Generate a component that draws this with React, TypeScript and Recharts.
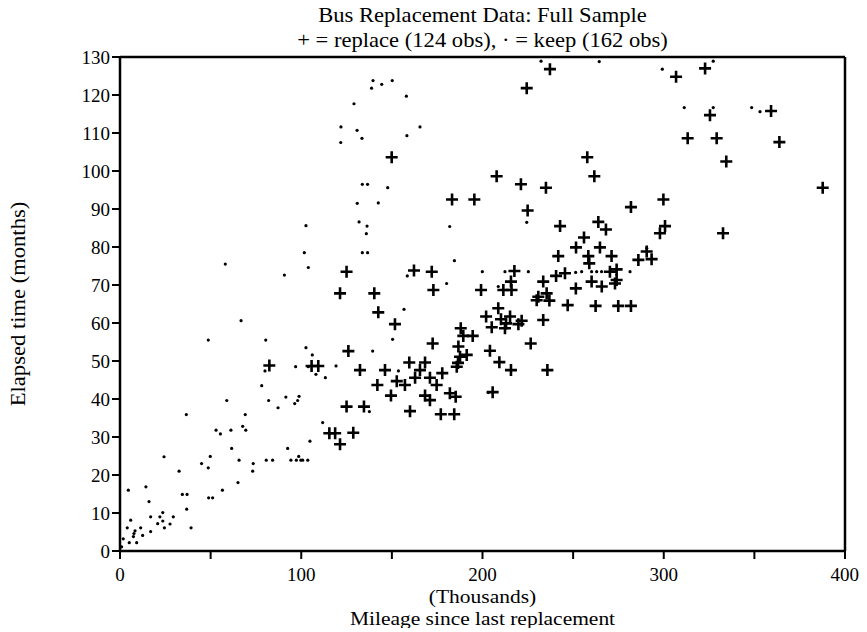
import React from 'react';
import { ScatterChart, Scatter, XAxis, YAxis, ReferenceLine } from 'recharts';

// [mileage (thousands), elapsed months]
const replacePoints: [number, number][] = [
  [237.2, 126.8], [224.4, 121.8], [149.9, 103.6], [183.2, 92.5], [195.5, 92.5],
  [207.8, 98.6], [221.2, 96.5], [235, 95.6], [224.9, 89.6], [257.8, 103.6],
  [261.7, 98.6], [281.9, 90.5], [299.8, 92.5], [242.8, 85.5], [263.9, 86.6],
  [268.1, 84.6], [256, 82.5], [300.7, 85.5], [297.9, 83.6], [251.6, 79.9],
  [264.8, 79.9], [306.8, 124.8], [322.8, 127], [325.5, 114.7], [359.2, 115.8],
  [313.2, 108.6], [329.2, 108.6], [363.8, 107.6], [334.5, 102.5], [387.7, 95.6],
  [332.7, 83.6], [293.3, 76.8], [125, 73.5], [121.4, 67.8], [140.3, 67.8],
  [142.5, 62.8], [151.7, 59.7], [162.2, 73.8], [172, 73.5], [172.9, 68.7],
  [172.5, 54.6], [188, 58.6], [189.4, 56.6], [194.6, 56.6], [199.2, 68.7],
  [202, 61.7], [186.7, 53.8], [187.6, 51.1], [191.3, 51.6], [185.8, 48.5],
  [126, 52.6], [105.7, 48.7], [109.4, 48.7], [132.4, 47.6], [146.2, 47.6],
  [159.6, 49.6], [168.3, 49.6], [165.5, 47.6], [162.8, 45.6], [171, 45.6],
  [177.8, 46.8], [142, 43.7], [152.7, 44.7], [157.2, 43.7], [174.7, 43.7],
  [149.5, 40.9], [168.3, 40.9], [171, 39.7], [182, 41.5], [185.2, 40.6],
  [160, 36.8], [177, 36], [184.4, 36], [125, 38], [134.6, 38],
  [115.5, 31], [118.7, 31], [128.7, 31.1], [121.4, 28.1], [82.4, 48.8],
  [241.8, 77.6], [217.6, 73.7], [240.6, 72.4], [245.5, 73.1], [215.7, 70.9],
  [233.5, 70.9], [211.5, 68.7], [216, 68.7], [251.5, 69.1], [230.8, 66.9],
  [235.4, 67.8], [229.9, 66], [236.9, 65.9], [247, 64.7], [208.7, 63.9],
  [210.2, 61], [215.2, 61.7], [213, 59.9], [205.1, 58.9], [212.4, 58.6],
  [219.8, 59.7], [221.6, 60.6], [233.5, 60.8], [204.1, 52.7], [226.6, 54.6],
  [209.3, 49.7], [215.7, 47.6], [235.8, 47.6], [205.6, 41.8], [258.4, 77.6],
  [271.2, 77.6], [258.9, 75.7], [290.6, 78.8], [286, 76.6], [274, 74.1],
  [270.3, 73.5], [274, 71.3], [273.1, 70.4], [260.2, 70.9], [265.8, 69.6],
  [262.4, 64.5], [274.9, 64.5], [281.9, 64.5], [186.5, 49.5],
];

const keepPoints: [number, number][] = [
  [0.9, 1.1], [1.8, 3.2], [4.6, 16], [4, 6.1], [5.9, 8.1], [5.1, 2.2], [7.4, 3.8],
  [7.7, 4.6], [8.3, 5.3], [9.2, 2.2], [11.4, 6.1], [12.5, 4.1], [14.3, 16.9], [16, 13],
  [16.9, 9], [16.9, 5.1], [20.8, 7.2], [22, 9], [23.6, 10.1], [23.6, 7.9], [24.5, 6.1],
  [24.3, 24.8], [27.6, 7.1], [29.4, 9], [32.6, 21], [34.4, 14.9], [37, 14.9], [36.6, 35.9],
  [36.8, 11], [39.2, 6.1], [45, 23], [48.7, 21.9], [49.8, 24.9], [48.9, 14], [51.1, 14],
  [58.9, 39.6], [53, 31.8], [55.4, 30.8], [56.5, 16], [61.2, 31.8], [61.6, 27], [65.1, 18],
  [65.7, 23.9], [67.7, 32.8], [69.1, 35.9], [69.4, 31.8], [73.5, 23], [73.2, 21], [78.2, 43.5],
  [82, 39.6], [80.7, 23.9], [84.2, 23.9], [87.2, 37.7], [91.5, 40.5], [92.5, 27], [94.3, 23.9],
  [96.4, 38.8], [97.3, 23.9], [98, 39.6], [98.8, 40.7], [98.6, 24.9], [99.8, 23.9], [100.8, 23.9],
  [103.6, 23.9], [104.8, 28.9], [58.1, 75.5], [66.8, 60.6], [48.7, 55.5], [80.4, 55.5],
  [102.6, 85.6], [101.7, 78.5], [103.9, 74.6], [90.7, 72.6], [102.6, 53.5], [96.9, 48.5],
  [103.9, 48.5], [80, 47.4], [133.7, 78.5], [136.6, 78.5], [158.5, 72.4], [180.2, 70.4],
  [184.5, 76.4], [199.9, 73.5], [156.7, 63.6], [150.4, 55.7], [139.4, 52.6], [106.1, 51.6],
  [119.2, 48.7], [108.1, 46.5], [113.3, 45.6], [153.6, 47.4], [137.6, 36.7], [111.8, 33.8],
  [203.2, 41.7], [139.6, 123.8], [144.4, 122.8], [150.2, 123.8], [138.8, 121.8], [158, 119.7],
  [129.1, 117.7], [121.9, 111.6], [130.8, 110.7], [165.5, 111.6], [121.8, 107.5], [133.5, 108.6],
  [158.3, 109.3], [133.7, 96.5], [136.6, 96.5], [147.7, 95.6], [130.9, 91.5], [142.5, 91.6],
  [131.9, 86.6], [136.3, 85.5], [135.9, 83.5], [181.9, 85.4], [232.3, 128.9], [264.4, 128.8],
  [299.2, 126.8], [224.4, 86.5], [290.6, 79.7], [327.3, 128.9], [311.3, 116.7], [327.3, 116.7],
  [348.5, 116.7], [353.1, 115.6], [212.4, 73.5], [225.3, 73.5], [208.7, 69.6], [251.4, 73.3],
  [254.7, 73.5], [260.2, 73.5], [263, 73.5], [265.7, 73.5], [281.4, 73.5],
];

const xTicks = [0, 50, 100, 150, 200, 250, 300, 350, 400];
const yTicks = [0, 10, 20, 30, 40, 50, 60, 70, 80, 90, 100, 110, 120, 130];

const replaceData = replacePoints.map(([x, y]) => ({ x, y }));
const keepData = keepPoints.map(([x, y]) => ({ x, y }));

const FONT = '"Liberation Serif", "DejaVu Serif", serif';

const Cross = (props: any) => {
  const { cx, cy } = props;
  if (cx == null || cy == null) return null;
  return (
    <path
      d={`M${cx - 6},${cy} H${cx + 6} M${cx},${cy - 6} V${cy + 6}`}
      stroke="#000"
      strokeWidth={2.6}
      fill="none"
    />
  );
};

const Dot = (props: any) => {
  const { cx, cy } = props;
  if (cx == null || cy == null) return null;
  return <circle cx={cx} cy={cy} r={1.6} fill="#000" />;
};

const tickStyle = { fontFamily: FONT, fontSize: 19, fill: '#000' };

const W = 851;
const H = 620;
const CENTER_X = 474.5;

// text is a little wider than Liberation Serif in the scan, so stretch it sideways
const T = (props: { x: number; y: number; size?: number; children: React.ReactNode; rotate?: boolean }) => (
  <text
    x={0}
    y={0}
    textAnchor="middle"
    dominantBaseline="central"
    fontFamily={FONT}
    fontSize={props.size ?? 20}
    fill="#000"
    transform={`translate(${props.x} ${props.y})${props.rotate ? ' rotate(-90)' : ''} scale(1.13 1)`}
  >
    {props.children}
  </text>
);

export default function App() {
  return (
    <div style={{ position: 'relative', width: W, height: H }}>
      <ScatterChart width={W} height={H} margin={{ top: 49, right: 14, left: 52, bottom: 47 }}>
        <XAxis
          type="number"
          dataKey="x"
          domain={[0, 400]}
          ticks={xTicks}
          allowDataOverflow
          tick={tickStyle}
          tickFormatter={(v: number) => (v % 100 === 0 ? String(v) : '')}
          tickSize={8}
          tickMargin={9}
          tickLine={{ stroke: '#000', strokeWidth: 2 }}
          axisLine={{ stroke: '#000', strokeWidth: 2.5 }}
          height={30}
        />
        <YAxis
          type="number"
          dataKey="y"
          domain={[0, 130]}
          ticks={yTicks}
          allowDataOverflow
          tick={tickStyle}
          tickSize={8}
          tickLine={{ stroke: '#000', strokeWidth: 2 }}
          axisLine={{ stroke: '#000', strokeWidth: 2.5 }}
          width={60}
          interval={0}
        />
        <ReferenceLine y={130} stroke="#000" strokeWidth={2.5} />
        <ReferenceLine x={400} stroke="#000" strokeWidth={2.5} />
        <Scatter data={keepData} shape={<Dot />} isAnimationActive={false} />
        <Scatter data={replaceData} shape={<Cross />} isAnimationActive={false} />
      </ScatterChart>
      <svg
        width={W}
        height={H}
        style={{ position: 'absolute', left: 0, top: 0, overflow: 'visible', pointerEvents: 'none' }}
      >
        <T x={CENTER_X} y={7}>Bus Replacement Data: Full Sample</T>
        <T x={CENTER_X} y={32.5}>+ = replace (124 obs),  · = keep (162 obs)</T>
        <T x={CENTER_X} y={588} size={19}>(Thousands)</T>
        <T x={CENTER_X} y={610} size={19}>Mileage since last replacement</T>
        <T x={10} y={296} rotate>Elapsed time (months)</T>
      </svg>
    </div>
  );
}
